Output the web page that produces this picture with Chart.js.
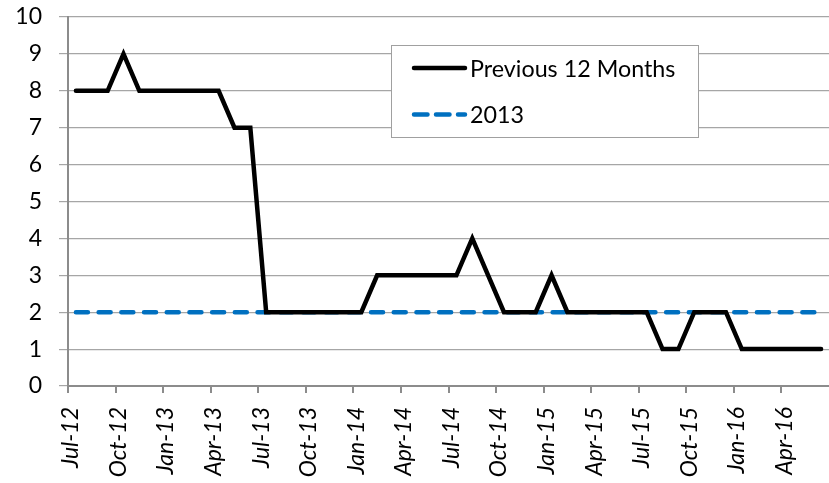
<!DOCTYPE html>
<html>
<head>
<meta charset="utf-8">
<script src="https://cdn.jsdelivr.net/npm/chart.js@4"></script>
<style>
  html, body { margin: 0; padding: 0; background: #fff; overflow: hidden; }
  #wrap { width: 829px; height: 483px; }
</style>
</head>
<body>
<div id="wrap"><canvas id="chart" width="829" height="483"></canvas></div>
<script>
  // Months on the axis
  const months = [
    'Jul-12', 'Aug-12', 'Sep-12', 'Oct-12', 'Nov-12', 'Dec-12',
    'Jan-13', 'Feb-13', 'Mar-13', 'Apr-13', 'May-13', 'Jun-13',
    'Jul-13', 'Aug-13', 'Sep-13', 'Oct-13', 'Nov-13', 'Dec-13',
    'Jan-14', 'Feb-14', 'Mar-14', 'Apr-14', 'May-14', 'Jun-14',
    'Jul-14', 'Aug-14', 'Sep-14', 'Oct-14', 'Nov-14', 'Dec-14',
    'Jan-15', 'Feb-15', 'Mar-15', 'Apr-15', 'May-15', 'Jun-15',
    'Jul-15', 'Aug-15', 'Sep-15', 'Oct-15', 'Nov-15', 'Dec-15',
    'Jan-16', 'Feb-16', 'Mar-16', 'Apr-16', 'May-16', 'Jun-16'
  ];

  // Series values
  const previous12Months = [
    8, 8, 8, 9, 8, 8, 8, 8, 8, 8, 7, 7,
    2, 2, 2, 2, 2, 2, 2, 3, 3, 3, 3, 3,
    3, 4, 3, 2, 2, 2, 3, 2, 2, 2, 2, 2,
    2, 1, 1, 2, 2, 2, 1, 1, 1, 1, 1, 1
  ];
  const year2013 = [
    2, 2, 2, 2, 2, 2, 2, 2, 2, 2, 2, 2,
    2, 2, 2, 2, 2, 2, 2, 2, 2, 2, 2, 2,
    2, 2, 2, 2, 2, 2, 2, 2, 2, 2, 2, 2,
    2, 2, 2, 2, 2, 2, 2, 2, 2, 2, 2, 2
  ];

  const FONT = 'Lato, "Open Sans", sans-serif';
  const gridColor = '#A6A6A6';
  const axisColor = '#8C8C8C';

  // Legend drawn inside the plot, as in the original
  const boxLegend = {
    id: 'boxLegend',
    afterDraw(chart) {
      const ctx = chart.ctx;
      const x = 391, y = 45, w = 307, h = 92;
      ctx.save();
      ctx.fillStyle = '#fff';
      ctx.fillRect(x, y, w, h);
      ctx.strokeStyle = '#A0A0A0';
      ctx.lineWidth = 1;
      ctx.strokeRect(x + 0.5, y + 0.5, w, h);

      chart.data.datasets.forEach((ds, i) => {
        const cy = 68 + i * 46.5;
        ctx.beginPath();
        ctx.lineWidth = ds.borderWidth;
        ctx.strokeStyle = ds.borderColor;
        ctx.lineCap = 'round';
        ctx.setLineDash(ds.borderDash ? [13.5, 8.5] : []);
        ctx.moveTo(414, cy);
        ctx.lineTo(465, cy);
        ctx.stroke();
        ctx.setLineDash([]);
        ctx.fillStyle = '#000';
        ctx.font = '23.3px ' + FONT;
        ctx.textBaseline = 'middle';
        ctx.textAlign = 'left';
        ctx.fillText(ds.label, 470, cy + 1);
      });
      ctx.restore();
    }
  };

  new Chart(document.getElementById('chart'), {
    type: 'line',
    data: {
      labels: months,
      datasets: [
        {
          label: 'Previous 12 Months',
          data: previous12Months,
          borderColor: '#000000',
          borderWidth: 4.5,
          borderCapStyle: 'round',
          borderJoinStyle: 'miter',
          pointRadius: 0,
          tension: 0,
        },
        {
          label: '2013',
          data: year2013,
          borderColor: '#0070C0',
          borderWidth: 4.5,
          borderDash: [12, 10.7],
          borderCapStyle: 'round',
          pointRadius: 0,
          tension: 0,
        },
      ],
    },
    options: {
      responsive: false,
      animation: false,
      layout: { padding: { top: 17, right: 0, bottom: 0, left: 0 } },
      plugins: {
        legend: { display: false },
        tooltip: { enabled: false },
      },
      scales: {
        x: {
          type: 'category',
          offset: true,
          grid: {
            offset: true,
            drawOnChartArea: false,
            drawTicks: true,
            tickLength: 7,
            lineWidth: 2,
            color: (c) => (c.index % 3 === 0 && c.index < months.length ? axisColor : 'rgba(0,0,0,0)'),
          },
          border: { color: axisColor, width: 2 },
          ticks: {
            autoSkip: false,
            minRotation: 90,
            maxRotation: 90,
            padding: 14,
            labelOffset: -5,
            color: '#000',
            font: { family: FONT, size: 23, style: 'italic' },
            callback: function (value, index) {
              return index % 3 === 0 ? this.getLabelForValue(value) : '';
            },
          },
          afterFit: (scale) => {
            scale.height = 97;
            scale.paddingRight = 0;
            scale.paddingLeft = 0;
          },
        },
        y: {
          min: 0,
          max: 10,
          grid: {
            color: gridColor,
            lineWidth: 1.2,
            tickLength: 9,
          },
          border: { color: axisColor, width: 2 },
          ticks: {
            stepSize: 1,
            padding: 17,
            color: '#000',
            font: { family: FONT, size: 23 },
          },
          afterFit: (scale) => {
            scale.width = 68;
            scale.paddingTop = 0;
            scale.paddingBottom = 0;
          },
        },
      },
    },
    plugins: [boxLegend],
  });
</script>
</body>
</html>
